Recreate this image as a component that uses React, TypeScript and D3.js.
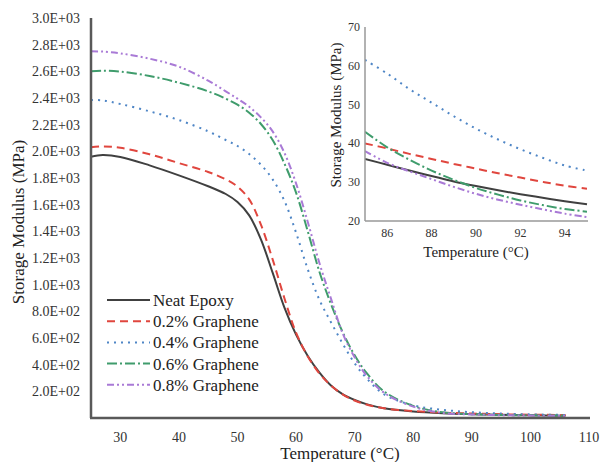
import React from "react";
import * as d3 from "d3";

const temps = [25, 27, 30, 35, 40, 45, 48, 50, 52, 54, 56, 58, 60, 62, 64, 66, 68, 70, 72, 75, 80, 85, 90, 95, 100, 106];
const neat = [1960, 1972, 1958, 1895, 1820, 1738, 1680, 1620, 1520, 1340, 1090, 830, 625, 465, 340, 242, 177, 135, 104, 73, 49, 36, 29, 24, 20, 17];
const g02 = [2030, 2037, 2027, 1978, 1912, 1845, 1790, 1735, 1640, 1450, 1190, 900, 640, 462, 333, 242, 176, 131, 101, 73, 52, 40, 33.5, 28.3, 25, 22];
const g04 = [2385, 2382, 2355, 2300, 2235, 2150, 2085, 2040, 1980, 1900, 1790, 1630, 1390, 1115, 885, 715, 555, 410, 300, 178, 95, 61.5, 43.5, 33, 27, 23];
const g06 = [2600, 2605, 2598, 2565, 2515, 2450, 2395, 2350, 2290, 2205, 2085, 1910, 1690, 1400, 1095, 850, 640, 470, 340, 200, 90, 43, 28.5, 22.4, 20, 18];
const g08 = [2750, 2748, 2735, 2695, 2635, 2530, 2450, 2395, 2335, 2255, 2150, 1990, 1760, 1470, 1160, 890, 630, 455, 320, 190, 85, 38, 27, 21, 18, 16];

const insetTemps = [85, 86, 87, 88, 89, 90, 91, 92, 93, 94, 95];
const insNeat = [36, 34.5, 33, 31.6, 30.2, 29, 27.9, 26.9, 26, 25.1, 24.3];
const ins02 = [40, 38.7, 37.3, 36, 34.7, 33.5, 32.3, 31.2, 30.1, 29.1, 28.3];
const ins04 = [61.5, 58, 54, 50.5, 47, 43.8, 41, 38.5, 36.3, 34.3, 33];
const ins06 = [43, 39, 35.8, 33, 30.6, 28.5, 26.8, 25.3, 24.1, 23.1, 22.4];
const ins08 = [38, 35, 32.8, 30.8, 28.8, 27, 25.5, 24.2, 23, 21.9, 21];

const labels = ["Neat Epoxy", "0.2% Graphene", "0.4% Graphene", "0.6% Graphene", "0.8% Graphene"];
const colors = ["#404040", "#e0463e", "#4f86c6", "#3f9c6c", "#a97ad6"];
const dashes = ["none", "8,5", "2,5", "10,3,2,3", "7,3,2,3,2,3"];

const yTicks = [200, 400, 600, 800, 1000, 1200, 1400, 1600, 1800, 2000, 2200, 2400, 2600, 2800, 3000];
const xTicks = [30, 40, 50, 60, 70, 80, 90, 100, 110];
const insXTicks = [86, 88, 90, 92, 94];
const insYTicks = [20, 30, 40, 50, 60, 70];

const FONT = "'Liberation Serif', 'Times New Roman', serif";

export default function App() {
  const x = d3.scaleLinear().domain([25, 110]).range([91, 589]);
  const y = d3.scaleLinear().domain([0, 3000]).range([418, 18]);
  const ix = d3.scaleLinear().domain([85, 95]).range([365, 587]);
  const iy = d3.scaleLinear().domain([20, 70]).range([221, 27]);

  const mainSeries = [neat, g02, g04, g06, g08];
  const insSeries = [insNeat, ins02, ins04, ins06, ins08];

  const line = d3
    .line<[number, number]>()
    .x((d) => x(d[0]))
    .y((d) => y(d[1]))
    .curve(d3.curveCatmullRom.alpha(0.5));
  const iline = d3
    .line<[number, number]>()
    .x((d) => ix(d[0]))
    .y((d) => iy(d[1]))
    .curve(d3.curveCatmullRom.alpha(0.5));

  const fmt = (v: number) => {
    const e = Math.floor(Math.log10(v));
    const m = v / Math.pow(10, e);
    return `${m.toFixed(1)}E+${String(e).padStart(2, "0")}`;
  };

  return (
    <svg
      width={600}
      height={462}
      style={{ position: "absolute", left: 0, top: 0, background: "#fff" }}
      fontFamily={FONT}
    >
      <rect width={600} height={462} fill="#fff" />
      {mainSeries.map((s, i) => (
        <path
          key={"m" + i}
          d={line(temps.map((t, j) => [t, s[j]] as [number, number])) || ""}
          fill="none"
          stroke={colors[i]}
          strokeWidth={2}
          strokeDasharray={dashes[i]}
        />
      ))}
      <line x1={91} x2={91} y1={18} y2={418} stroke="#595959" strokeWidth={2.5} />
      <line x1={90} x2={590} y1={418} y2={418} stroke="#595959" strokeWidth={2.5} />
      {yTicks.map((t) => (
        <text key={"yt" + t} x={80} y={y(t) + 5} textAnchor="end" fontSize={14} fill="#333">
          {fmt(t)}
        </text>
      ))}
      {xTicks.map((t) => (
        <text key={"xt" + t} x={x(t)} y={442} textAnchor="middle" fontSize={14} fill="#333">
          {t}
        </text>
      ))}
      <text x={340} y={459} textAnchor="middle" fontSize={17} fill="#222">
        Temperature (°C)
      </text>
      <text transform={`translate(24,222) rotate(-90)`} textAnchor="middle" fontSize={17} fill="#222">
        Storage Modulus (MPa)
      </text>
      {labels.map((l, i) => {
        const ly = 300 + i * 21.2;
        return (
          <g key={"lg" + i}>
            <line x1={107} x2={150} y1={ly} y2={ly} stroke={colors[i]} strokeWidth={2} strokeDasharray={dashes[i]} />
            <text x={153} y={ly + 6} fontSize={17} fill="#222">
              {l}
            </text>
          </g>
        );
      })}
      <defs>
        <clipPath id="insClip">
          <rect x={365} y={20} width={225} height={202} />
        </clipPath>
      </defs>
      <g clipPath="url(#insClip)">
        {insSeries.map((s, i) => (
          <path
            key={"i" + i}
            d={iline(insetTemps.map((t, j) => [t, s[j]] as [number, number])) || ""}
            fill="none"
            stroke={colors[i]}
            strokeWidth={2}
            strokeDasharray={dashes[i]}
          />
        ))}
      </g>
      <line x1={365} x2={365} y1={27} y2={221} stroke="#999" strokeWidth={1.5} />
      <line x1={365} x2={588} y1={221} y2={221} stroke="#999" strokeWidth={1.5} />
      {insYTicks.map((t) => (
        <text key={"iyt" + t} x={360} y={iy(t) + 4} textAnchor="end" fontSize={12} fill="#333">
          {t}
        </text>
      ))}
      {insXTicks.map((t) => (
        <text key={"ixt" + t} x={ix(t)} y={237} textAnchor="middle" fontSize={12} fill="#333">
          {t}
        </text>
      ))}
      <text x={476} y={257} textAnchor="middle" fontSize={15} fill="#222">
        Temperature (°C)
      </text>
      <text transform={`translate(341,115) rotate(-90)`} textAnchor="middle" fontSize={15} fill="#222">
        Storage Modulus (MPa)
      </text>
    </svg>
  );
}
